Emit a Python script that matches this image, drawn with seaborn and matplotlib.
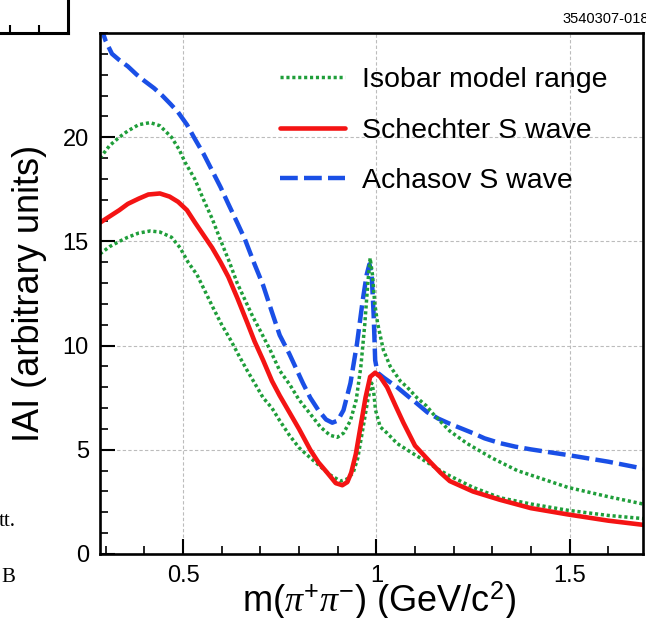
import matplotlib
matplotlib.use("Agg")
import seaborn as sns
import matplotlib.pyplot as plt
from matplotlib.ticker import MultipleLocator

# values
m_achasov = [0.285, 0.30, 0.316, 0.335, 0.357, 0.38, 0.40, 0.425, 0.446, 0.467, 0.487, 0.51, 0.531,
             0.553, 0.575, 0.597, 0.617, 0.64, 0.66, 0.685, 0.707, 0.73, 0.75, 0.775, 0.795, 0.81,
             0.829, 0.85, 0.87, 0.886, 0.90, 0.915, 0.933, 0.95, 0.965, 0.975, 0.982, 0.988, 0.993,
             0.997, 1.003, 1.02, 1.054, 1.08, 1.10, 1.132, 1.16, 1.19, 1.25, 1.28, 1.32, 1.36, 1.40,
             1.495, 1.6, 1.69]
a_achasov = [25.4, 24.6, 24.0, 23.7, 23.4, 23.0, 22.7, 22.35, 22.0, 21.6, 21.2, 20.6, 19.9,
             19.2, 18.4, 17.6, 16.8, 15.9, 15.1, 13.9, 12.9, 11.6, 10.5, 9.6, 8.8, 8.2,
             7.5, 6.9, 6.45, 6.3, 6.4, 6.9, 8.2, 10.1, 12.2, 13.4, 13.9, 13.4, 11.5,
             9.3, 8.7, 8.45, 8.0, 7.6, 7.3, 6.8, 6.5, 6.25, 5.8, 5.55, 5.32, 5.15, 5.02,
             4.75, 4.43, 4.1]

m_iso_hi = [0.285, 0.31, 0.335, 0.357, 0.385, 0.415, 0.44, 0.47, 0.49, 0.505, 0.53, 0.553, 0.575,
            0.596, 0.62, 0.64, 0.66, 0.68, 0.70, 0.725, 0.75, 0.777, 0.80, 0.83, 0.855, 0.88, 0.899,
            0.915, 0.933, 0.948, 0.96, 0.97, 0.978, 0.984, 0.99, 0.996, 1.003, 1.018, 1.036, 1.062,
            1.08, 1.105, 1.13, 1.148, 1.19, 1.235, 1.30, 1.365, 1.43, 1.495, 1.6, 1.69]
a_iso_hi = [19.0, 19.6, 20.0, 20.3, 20.6, 20.7, 20.55, 20.0, 19.4, 18.8, 18.0, 17.0, 16.1,
            15.1, 14.0, 13.0, 12.2, 11.4, 10.7, 9.8, 8.8, 8.1, 7.4, 6.7, 6.1, 5.7, 5.6,
            5.8, 6.4, 7.4, 9.0, 11.0, 13.0, 14.2, 13.4, 12.0, 11.1, 9.8, 9.0, 8.3,
            8.0, 7.5, 7.1, 6.7, 5.9, 5.3, 4.6, 4.0, 3.6, 3.2, 2.75, 2.4]

m_iso_lo = [0.285, 0.31, 0.335, 0.357, 0.385, 0.415, 0.44, 0.47, 0.492, 0.513, 0.536, 0.557, 0.578,
            0.60, 0.622, 0.645, 0.666, 0.685, 0.707, 0.73, 0.75, 0.775, 0.80, 0.83, 0.855, 0.88,
            0.907, 0.925, 0.94, 0.952, 0.966, 0.978, 0.988, 0.993, 0.998, 1.01, 1.028, 1.054,
            1.088, 1.14, 1.166, 1.19, 1.25, 1.32, 1.40, 1.495, 1.6, 1.69]
a_iso_lo = [14.4, 14.75, 15.0, 15.2, 15.4, 15.5, 15.45, 15.2, 14.7, 14.0, 13.4, 12.6, 11.8,
            11.0, 10.3, 9.5, 8.8, 8.2, 7.5, 7.0, 6.4, 5.7, 5.1, 4.6, 4.2, 3.8,
            3.5, 3.6, 3.9, 4.6, 6.1, 7.4, 8.2, 7.8, 6.9, 6.1, 5.8, 5.3,
            4.9, 4.3, 4.0, 3.75, 3.2, 2.7, 2.4, 2.1, 1.85, 1.7]

m_schechter = [0.285, 0.31, 0.335, 0.357, 0.385, 0.41, 0.44, 0.465, 0.487, 0.51, 0.531, 0.553, 0.575,
               0.597, 0.617, 0.64, 0.666, 0.685, 0.707, 0.73, 0.75, 0.775, 0.80, 0.829, 0.85, 0.873,
               0.895, 0.912, 0.925, 0.935, 0.947, 0.959, 0.972, 0.984, 0.997, 1.01, 1.028, 1.05,
               1.07, 1.10, 1.14, 1.166, 1.19, 1.25, 1.32, 1.40, 1.495, 1.6, 1.69]
a_schechter = [15.9, 16.2, 16.5, 16.8, 17.05, 17.25, 17.3, 17.15, 16.9, 16.5, 15.9, 15.3, 14.7,
               14.0, 13.3, 12.3, 11.1, 10.2, 9.3, 8.3, 7.6, 6.8, 6.0, 5.0, 4.4, 3.9,
               3.4, 3.3, 3.45, 3.9, 4.8, 6.1, 7.5, 8.5, 8.7, 8.5, 8.0, 7.1,
               6.3, 5.2, 4.4, 3.9, 3.5, 3.0, 2.6, 2.2, 1.9, 1.6, 1.4]

x_ticks = [0.5, 1, 1.5]
x_tick_labels = ["0.5", "1", "1.5"]
y_ticks = [0, 5, 10, 15, 20]
y_tick_labels = ["0", "5", "10", "15", "20"]

sns.set_theme(style="white")
plt.rcParams["font.family"] = ["Liberation Sans", "DejaVu Sans"]
plt.rcParams["mathtext.fontset"] = "custom"
plt.rcParams["mathtext.rm"] = "Liberation Sans"
plt.rcParams["mathtext.it"] = "Liberation Serif:italic"
for k in ["text.color", "axes.labelcolor", "xtick.color", "ytick.color"]:
    plt.rcParams[k] = "black"

green = "#1f9e3a"
red = "#f41414"
blue = "#1a4fe6"

fig = plt.figure(figsize=(6.46, 6.18), dpi=100)
ax = fig.add_axes([100 / 646, 64 / 618, 543 / 646, 521 / 618])

sns.lineplot(x=m_achasov, y=a_achasov, ax=ax, color=blue, lw=3.2, linestyle=(0, (4.0, 1.4)),
             label="Achasov S wave", estimator=None, sort=False)
sns.lineplot(x=m_iso_hi, y=a_iso_hi, ax=ax, color=green, lw=2.5, linestyle=(0, (0.9, 0.8)),
             label="Isobar model range", estimator=None, sort=False)
sns.lineplot(x=m_iso_lo, y=a_iso_lo, ax=ax, color=green, lw=2.5, linestyle=(0, (0.9, 0.8)),
             label="_nolegend_", estimator=None, sort=False)
sns.lineplot(x=m_schechter, y=a_schechter, ax=ax, color=red, lw=3.3,
             label="Schechter S wave", estimator=None, sort=False)

ax.set_xlim(0.285, 1.69)
ax.set_ylim(0, 25)
ax.set_xticks(x_ticks)
ax.set_xticklabels(x_tick_labels)
ax.set_yticks(y_ticks)
ax.set_yticklabels(y_tick_labels)
ax.xaxis.set_minor_locator(MultipleLocator(0.1))
ax.yaxis.set_minor_locator(MultipleLocator(1))
ax.tick_params(which="major", direction="in", length=11, width=1.5, labelsize=17,
               colors="black", pad=8, top=False, right=False, bottom=True, left=True)
ax.tick_params(which="minor", direction="in", length=6, width=1.2, top=False, right=False,
               bottom=True, left=True)
ax.grid(True, which="major", color="#bcbcbc", linestyle=(0, (3, 2)), lw=0.8)
for s in ax.spines.values():
    s.set_color("black")
    s.set_linewidth(1.9)

ax.set_xlabel(r"m($\pi^{+}\pi^{-}$) (GeV/c$^{2}$)", fontsize=26)
ax.xaxis.label.set_va("center")
ax.xaxis.set_label_coords(0.513, -0.09)
ax.set_ylabel("IAI (arbitrary units)", fontsize=26)
ax.yaxis.set_label_coords(-0.098, 0.5)

handles, labels = ax.get_legend_handles_labels()
lookup = dict(zip(labels, handles))
order = ["Isobar model range", "Schechter S wave", "Achasov S wave"]
leg = ax.legend([lookup[k] for k in order], order, loc="upper left",
                bbox_to_anchor=(0.331, 0.935), frameon=False, fontsize=20.5,
                handlelength=2.28, handletextpad=0.6, labelspacing=0.87,
                borderpad=0, borderaxespad=0)

# stray bits of the neighbouring page in the scan
fig.text(562 / 646, 1 - 19 / 618, "3540307-018", fontsize=10.5, va="center", ha="left",
         family=["Liberation Sans Narrow", "Liberation Sans"])
fig.text(16 / 646, 1 - 522 / 618, "tt.", fontsize=15, va="center", ha="right",
         family=["Liberation Serif", "DejaVu Serif"])
fig.text(15 / 646, 1 - 577 / 618, "B", fontsize=15, va="center", ha="right",
         family=["Liberation Serif", "DejaVu Serif"])
box = fig.add_axes([-0.1, 1 - 33 / 618, 0.1 + 68 / 646, 0.2])
box.set_xlim(0, 1)
box.set_xticks([(0.1 + 10 / 646) / (0.1 + 68 / 646), (0.1 + 39 / 646) / (0.1 + 68 / 646)])
box.set_xticklabels([])
box.set_yticks([])
box.tick_params(direction="in", length=6, width=1.5, bottom=True, colors="black")
for k in ["top", "left"]:
    box.spines[k].set_visible(False)
for k in ["right", "bottom"]:
    box.spines[k].set_color("black")
    box.spines[k].set_linewidth(2.2)
box.patch.set_visible(False)

fig.savefig("out.png", dpi=100)
